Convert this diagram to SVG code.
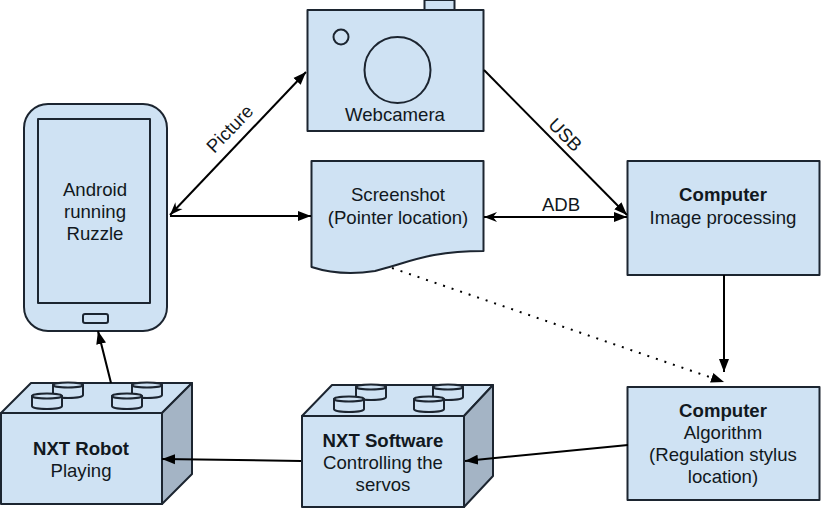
<svg xmlns="http://www.w3.org/2000/svg" width="829" height="515" viewBox="0 0 829 515">
<style>
.s{fill:#cfe2f3;stroke:#1c2530;stroke-width:2;stroke-linejoin:round}
.d{fill:#a4b4c5;stroke:#1c2530;stroke-width:2;stroke-linejoin:round}
.n{fill:none;stroke:#1c2530;stroke-width:2}
.c{fill:none;stroke:#000;stroke-width:2}
text{font-family:"Liberation Sans",Arial,sans-serif;font-size:18.6px;fill:#111820;text-anchor:middle}
.b{font-weight:bold}
</style>
<defs>
<marker id="a" markerUnits="userSpaceOnUse" markerWidth="16" markerHeight="12" refX="13" refY="6" orient="auto-start-reverse"><path d="M0 1L13 6L0 11Z" fill="#000"/></marker>
<marker id="o" markerUnits="userSpaceOnUse" markerWidth="16" markerHeight="12" refX="13" refY="6" orient="auto-start-reverse"><path d="M0 1L13 6L0 11L4 6Z" fill="#000"/></marker>
<g id="stud"><path class="s" d="M0 3V13C0 17 30 17 30 13V3Z"/><ellipse class="s" cx="15" cy="3" rx="15" ry="2.500"/></g>
</defs>
<g id="webcamera">
<rect class="s" x="424.500" y="0" width="30" height="10"/>
<rect class="s" x="307.500" y="10" width="176" height="121"/>
<circle class="n" cx="341" cy="37" r="7.500"/>
<circle class="n" cx="397.500" cy="70" r="33"/>
<text x="395" y="121">Webcamera</text>
</g>
<g id="android">
<rect class="s" x="24" y="104" width="143" height="227" rx="24"/>
<rect class="s" x="38" y="119" width="112" height="184"/>
<rect class="s" x="83" y="314" width="25" height="9" rx="2"/>
<text x="95" y="196">Android</text>
<text x="95" y="218">running</text>
<text x="95" y="240">Ruzzle</text>
</g>
<g id="screenshot">
<path class="s" d="M311.500 161H483.500V251C430 251 410 262 375 271C350 275 330 273 311.500 267Z"/>
<text x="398" y="201">Screenshot</text>
<text x="398" y="224">(Pointer location)</text>
</g>
<g id="computer1">
<rect class="s" x="627.500" y="161" width="192" height="114"/>
<text class="b" x="723" y="201">Computer</text>
<text x="723" y="224">Image processing</text>
</g>
<g id="computer2">
<rect class="s" x="627.500" y="387" width="192" height="113"/>
<text class="b" x="723" y="417">Computer</text>
<text x="723" y="439">Algorithm</text>
<text x="723" y="461">(Regulation stylus</text>
<text x="723" y="483">location)</text>
</g>
<g id="software">
<path class="s" d="M302 416L332 385H493L464 416Z"/>
<path class="d" d="M464 416L493 385V476L464 507Z"/>
<rect class="s" x="302" y="416" width="162" height="91"/>
<use href="#stud" x="356" y="384"/>
<use href="#stud" x="433" y="384"/>
<use href="#stud" x="334" y="396"/>
<use href="#stud" x="414" y="396"/>
<text class="b" x="383" y="447">NXT Software</text>
<text x="383" y="469">Controlling the</text>
<text x="383" y="491">servos</text>
</g>
<g id="robot">
<path class="s" d="M1 413L31 383H192L162 413Z"/>
<path class="d" d="M162 413L192 383V474L162 504Z"/>
<rect class="s" x="1" y="413" width="161" height="91"/>
<use href="#stud" x="53" y="382"/>
<use href="#stud" x="132" y="382"/>
<use href="#stud" x="32" y="393"/>
<use href="#stud" x="112" y="393"/>
<text class="b" x="81" y="455">NXT Robot</text>
<text x="81" y="477">Playing</text>
</g>
<g id="connectors">
<path class="c" d="M170 215L306 72" marker-start="url(#o)" marker-end="url(#a)"/>
<path class="c" d="M170 216H311" marker-end="url(#a)"/>
<path class="c" d="M484 217H627" marker-start="url(#o)" marker-end="url(#a)"/>
<path class="c" d="M484 70L627 215" marker-end="url(#a)"/>
<path class="c" d="M724 275V372" marker-end="url(#a)"/>
<path class="c" d="M392 268L724 382" stroke-dasharray="2 7" marker-end="url(#a)"/>
<path class="c" d="M628 445L465 461" marker-end="url(#a)"/>
<path class="c" d="M301 461L162 459" marker-end="url(#a)"/>
<path class="c" d="M111 383L98 331" marker-end="url(#a)"/>
</g>
<g id="labels">
<text x="230" y="135" transform="rotate(-46 230 129)">Picture</text>
<text x="565" y="141" transform="rotate(45 565 135)">USB</text>
<text x="561" y="211">ADB</text>
</g>
</svg>
